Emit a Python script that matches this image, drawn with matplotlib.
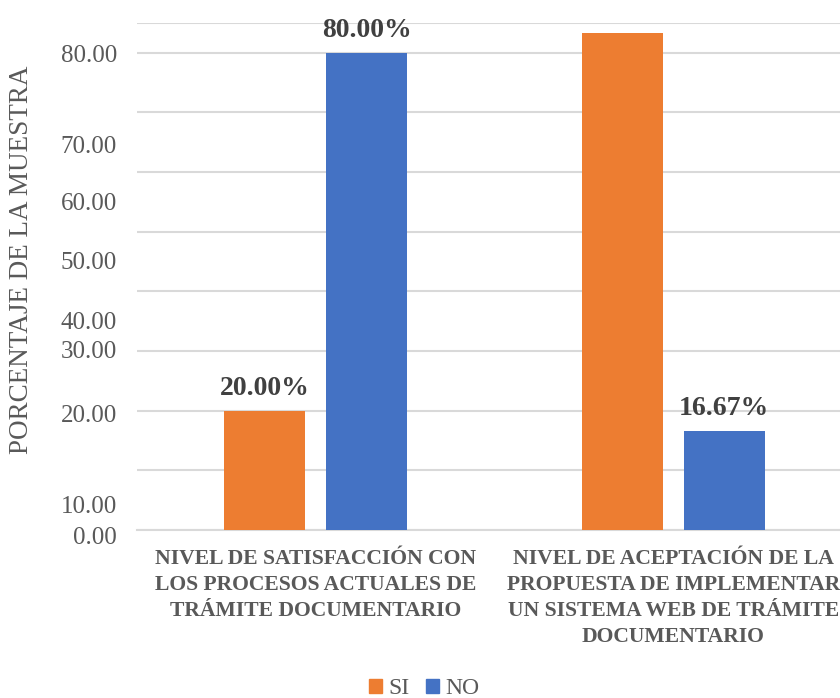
import matplotlib.pyplot as plt
import matplotlib.transforms as mtransforms
from matplotlib.patches import Patch
import numpy as np

categories = ["NIVEL DE SATISFACCIÓN CON\nLOS PROCESOS ACTUALES DE\nTRÁMITE DOCUMENTARIO",
              "NIVEL DE ACEPTACIÓN DE LA\nPROPUESTA DE IMPLEMENTAR\nUN SISTEMA WEB DE TRÁMITE\nDOCUMENTARIO"]
si_values = [20.00, 83.33]
no_values = [80.00, 16.67]
si_labels = ["20.00%", ""]
no_labels = ["80.00%", "16.67%"]

grid_values = [0, 10, 20, 30, 40, 50, 60, 70, 80, 85]
# the reference draws its tick labels off the gridlines
tick_values = [-0.9, 4.2, 19.6, 30.2, 35.2, 45.1, 55.0, 64.7, 79.9]
tick_labels = ["0.00", "10.00", "20.00", "30.00", "40.00", "50.00", "60.00", "70.00", "80.00"]

orange = "#ED7D31"
blue = "#4472C4"
gray = "#595959"

plt.rcParams['font.family'] = ['Liberation Serif', 'DejaVu Serif']

fig = plt.figure(figsize=(8.4, 6.98), dpi=100)
ax = fig.add_axes([137/840, 168/698, 715/840, 507/698])

x = np.arange(len(categories))
w = 0.227
off = 0.143
b1 = ax.bar(x - off, si_values, w, color=orange, zorder=3)
b2 = ax.bar(x + off, no_values, w, color=blue, zorder=3)

for rect, lab in zip(b1, si_labels):
    if lab:
        ax.annotate(lab, (rect.get_x() + rect.get_width()/2, rect.get_height()),
                    xytext=(0, 7), textcoords="offset points", ha="center", va="bottom",
                    fontsize=20, fontweight="bold", color="#404040")
for rect, lab in zip(b2, no_labels):
    if lab:
        ax.annotate(lab, (rect.get_x() + rect.get_width()/2, rect.get_height()),
                    xytext=(0, 7), textcoords="offset points", ha="center", va="bottom",
                    fontsize=20, fontweight="bold", color="#404040")

ax.set_xlim(-0.5, 1.5)
ax.set_ylim(0, 85)
ax.set_yticks(grid_values)
ax.set_yticklabels([])
ax.tick_params(axis="y", length=0)
ax.grid(axis="y", color="#d9d9d9", linewidth=1.5, zorder=0)

trans = mtransforms.blended_transform_factory(ax.transAxes, ax.transData)
for v, lab in zip(tick_values, tick_labels):
    ax.text(-20/715, v, lab, transform=trans, ha="right", va="center_baseline",
            fontsize=18, color=gray, clip_on=False)

ax.set_xticks(x)
ax.set_xticklabels(categories, fontsize=15.6, fontweight="bold", color=gray, linespacing=1.4)
ax.tick_params(axis="x", length=0, pad=14)

for s in ["top", "right", "left"]:
    ax.spines[s].set_visible(False)
ax.spines["bottom"].set_color("#d9d9d9")
ax.spines["bottom"].set_linewidth(1.5)

fig.text(22/840, 1 - 260/698, "PORCENTAJE DE LA MUESTRA", rotation=90,
         ha="center", va="center", fontsize=19.5, color=gray)

handles = [Patch(color=orange), Patch(color=blue)]
fig.legend(handles, ["SI", "NO"], loc="center", bbox_to_anchor=(0.505, 9/698),
           ncol=2, frameon=False, fontsize=17, labelcolor=gray,
           handlelength=0.55, handleheight=0.55, handletextpad=0.25, columnspacing=0.7)

fig.savefig("out.png", dpi=100)
